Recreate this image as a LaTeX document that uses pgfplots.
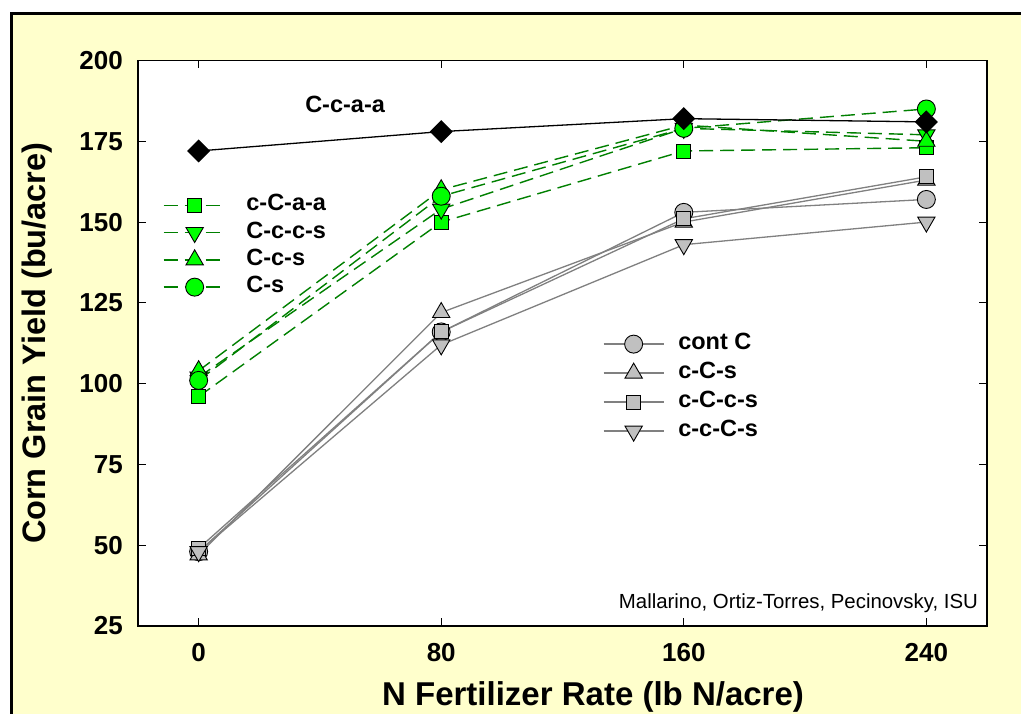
\documentclass[border=0pt]{standalone}
\usepackage{pgfplots}
\pgfplotsset{compat=1.18}
\usepackage{fontspec}
\setmainfont{Liberation Sans}
\definecolor{bgyellow}{HTML}{FFFFCC}
\definecolor{lgreen}{HTML}{00FF00}
\definecolor{dgreen}{HTML}{008000}
\definecolor{mgray}{HTML}{C0C0C0}
\definecolor{lgray}{HTML}{808080}
\pgfplotsset{
  graystyle/.style={draw=lgray, line width=1.3pt, mark options={solid, fill=mgray, draw=black, line width=0.9pt}},
  greenstyle/.style={draw=dgreen, line width=1.4pt, dash pattern=on 14pt off 7pt, mark options={solid, fill=lgreen, draw=black, line width=0.9pt}},
  mcirc/.style={mark=*, mark size=9pt},
  mup/.style={mark=triangle*, mark size=10pt},
  mdown/.style={mark=triangle*, mark size=10pt, every mark/.append style={rotate=180}},
  msq/.style={mark=square*, mark size=7pt},
  commonaxis/.style={
    at={(138pt,88pt)}, anchor=south west,
    width=849pt, height=565.5pt, scale only axis,
    xmin=-20, xmax=260, ymin=25, ymax=200,
  },
}
\begin{document}
\begin{tikzpicture}[x=1pt,y=1pt]
\useasboundingbox (0,0) rectangle (1021,714);
\clip (0,0) rectangle (1021,714);
\fill[white] (0,0) rectangle (1021,714);
\fill[bgyellow] (11.5,-10) rectangle (1040,700.5);
\draw[line width=3.5pt] (11.5,-10) -- (11.5,700.5) -- (1040,700.5);
\begin{axis}[
  commonaxis,
  xtick={0,80,160,240}, ytick={25,50,75,100,125,150,175,200},
  tick align=inside, major tick length=8pt,
  axis line style={line width=1.8pt},
  every tick/.style={line width=1pt, black},
  axis background/.style={fill=white},
  /pgf/number format/assume math mode=true,
  ticklabel style={font=\fontsize{26}{26}\selectfont\bfseries},
  yticklabel style={inner sep=0pt, xshift=-15pt},
  xticklabel style={inner sep=0pt, yshift=-17pt},
  xlabel={N Fertilizer Rate (lb N/acre)},
  ylabel={Corn Grain Yield (bu/acre)},
  every axis x label/.style={at={(axis description cs:0.536,-0.1256)}, anchor=center, font=\fontsize{33}{33}\selectfont\bfseries},
  every axis y label/.style={at={(axis description cs:-0.119,0.5)}, rotate=90, anchor=center, font=\fontsize{32.5}{32.5}\selectfont\bfseries},
  legend image code/.code={\draw[mark repeat=2,mark phase=2,#1] plot coordinates {(0pt,0pt) (31pt,0pt) (62pt,0pt)};},
  legend cell align=left,
  legend style={draw=none, fill=none, at={(rel axis cs:0.0294,0.7626)}, anchor=north west,
    inner sep=0pt, outer sep=0pt, row sep=6.3pt,
    font=\fontsize{23.5}{23.5}\selectfont\bfseries,
    nodes={inner sep=0pt, text height=16pt, text depth=5pt},
    /tikz/every odd column/.append style={column sep=20pt}},
]
% gray series
\addplot[graystyle, mcirc, forget plot] coordinates {(0,48) (80,116) (160,153) (240,157)};
\addplot[graystyle, mup, forget plot] coordinates {(0,47) (80,122) (160,150) (240,163)};
\addplot[graystyle, msq, forget plot] coordinates {(0,49) (80,116) (160,151) (240,164)};
\addplot[graystyle, mdown, forget plot] coordinates {(0,48) (80,112) (160,143) (240,150)};
% green series
\addplot[greenstyle, msq] coordinates {(0,96) (80,150) (160,172) (240,173)};
\addplot[greenstyle, mdown] coordinates {(0,102) (80,154) (160,179) (240,177)};
\addplot[greenstyle, mup] coordinates {(0,104) (80,160) (160,180) (240,175)};
\addplot[greenstyle, mcirc] coordinates {(0,101) (80,158) (160,179) (240,185)};
% black series
\addplot[black, line width=1.3pt, mark=square*, mark size=7.5pt, mark options={rotate=45, fill=black}, forget plot] coordinates {(0,172) (80,178) (160,182) (240,181)};
\legend{c-C-a-a, C-c-c-s, C-c-s, C-s}
\node[font=\fontsize{23.5}{23.5}\selectfont\bfseries] at (axis cs:48.3,186.3) {C-c-a-a};
\node[font=\fontsize{20.4}{20.4}\selectfont, anchor=east, inner sep=0pt] at (rel axis cs:0.9895,0.0405) {Mallarino, Ortiz-Torres, Pecinovsky, ISU};
\end{axis}
\begin{axis}[
  commonaxis, hide axis,
  legend image code/.code={\draw[mark repeat=2,mark phase=2,#1] plot coordinates {(0pt,0pt) (30pt,0pt) (60pt,0pt)};},
  legend cell align=left,
  legend style={draw=none, fill=none, at={(rel axis cs:0.5477,0.517)}, anchor=north west,
    inner sep=0pt, outer sep=0pt, row sep=8pt,
    font=\fontsize{23.5}{23.5}\selectfont\bfseries,
    nodes={inner sep=0pt, text height=16pt, text depth=5pt},
    /tikz/every odd column/.append style={column sep=14pt}},
]
\addlegendimage{graystyle, mcirc}
\addlegendimage{graystyle, mup}
\addlegendimage{graystyle, msq}
\addlegendimage{graystyle, mdown}
\legend{cont C, c-C-s, c-C-c-s, c-c-C-s}
\end{axis}
\end{tikzpicture}
\end{document}
